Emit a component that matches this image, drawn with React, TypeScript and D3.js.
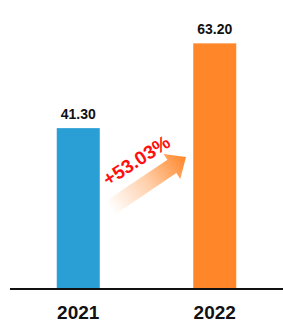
import React from "react";
import * as d3 from "d3";

const categories = ["2021", "2022"];
const values = [41.3, 63.2];
const valueLabels = ["41.30", "63.20"];
const colors = ["#2a9fd6", "#ff8629"];
const growthLabel = "+53.03%";

const W = 283;
const H = 322;

export default function App() {
  const x = d3.scaleBand<string>().domain(categories).range([10, 283]).paddingInner(0.68).paddingOuter(0.34);
  const y = d3.scaleLinear().domain([0, 74.4]).range([288, 0]);
  const bw = 43;
  const cx = (c: string) => (x(c) as number) + x.bandwidth() / 2;

  // arrow geometry
  const ax0 = 110, ay0 = 208, ax1 = 186, ay1 = 157;
  const ang = Math.atan2(ay1 - ay0, ax1 - ax0) * 180 / Math.PI;
  const len = Math.hypot(ax1 - ax0, ay1 - ay0);

  return (
    <svg width={W} height={H} style={{ position: "absolute", left: 0, top: 0, fontFamily: "'Liberation Sans', Arial, sans-serif" }}>
      <defs>
        <linearGradient id="ag" x1="0" y1="0" x2="1" y2="0">
          <stop offset="0" stopColor="#ff8629" stopOpacity="0" />
          <stop offset="0.5" stopColor="#ff8629" stopOpacity="0.4" />
          <stop offset="1" stopColor="#ff8629" stopOpacity="1" />
        </linearGradient>
      </defs>
      {categories.map((c, i) => (
        <g key={c}>
          <rect x={cx(c) - bw / 2} y={y(values[i])} width={bw} height={y(0) - y(values[i])} fill={colors[i]} />
          <text x={cx(c)} y={y(values[i]) - 9} textAnchor="middle" fontSize={14} fontWeight="bold" fill="#111">{valueLabels[i]}</text>
          <text x={cx(c)} y={319} textAnchor="middle" fontSize={19} fontWeight="bold" fill="#111">{c}</text>
        </g>
      ))}
      <line x1={10} x2={283} y1={289} y2={289} stroke="#111" strokeWidth={2} />
      <g transform={`translate(${ax0},${ay0}) rotate(${ang})`}>
        <path
          d={`M0,-8 L${len - 17},-8 L${len - 17},-15 L${len},0 L${len - 17},15 L${len - 17},8 L0,8 Z`}
          fill="url(#ag)"
        />
      </g>
      <text
        transform={`translate(140,166) rotate(-33)`}
        textAnchor="middle"
        fontSize={19}
        fontWeight="bold"
        fill="#ff1010"
      >{growthLabel}</text>
    </svg>
  );
}
